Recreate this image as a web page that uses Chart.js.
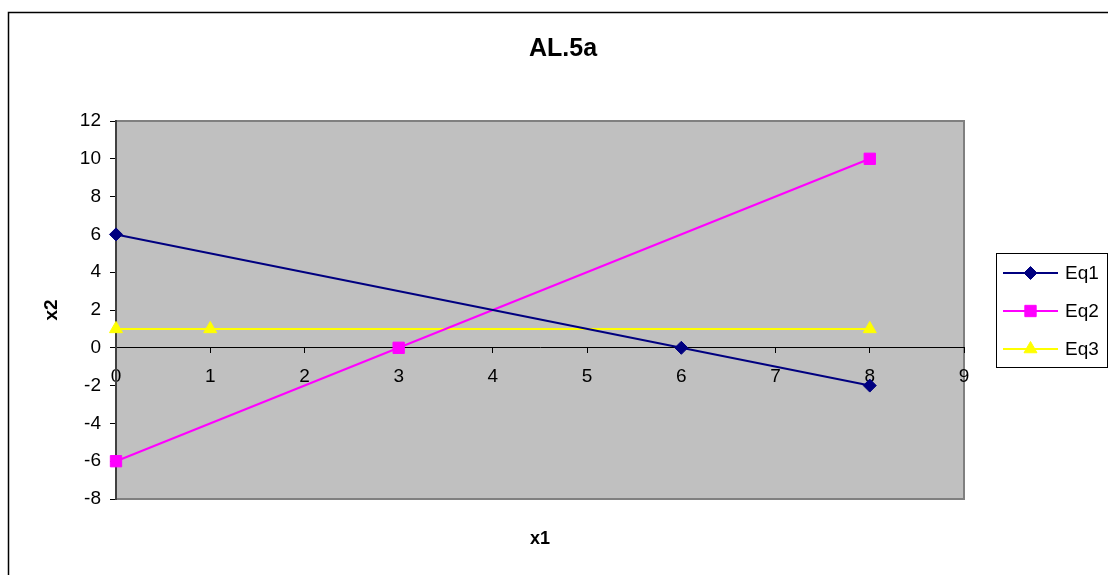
<!DOCTYPE html>
<html>
<head>
<meta charset="utf-8">
<title>AL.5a</title>
<script src="https://cdn.jsdelivr.net/npm/chart.js@4/dist/chart.umd.min.js"></script>
<style>
  html, body { margin: 0; padding: 0; background: #ffffff; }
  #wrap { width: 1108px; height: 575px; }
</style>
</head>
<body>
<div id="wrap"><canvas id="c" width="1108" height="575"></canvas></div>
<script>
// Lines of the three equations, given by the points where markers sit
const eq1X = [0, 6, 8];
const eq1Y = [6, 0, -2];
const eq2X = [0, 3, 8];
const eq2Y = [-6, 0, 10];
const eq3X = [0, 1, 8];
const eq3Y = [1, 1, 1];

const seriesNames = ['Eq1', 'Eq2', 'Eq3'];
const chartTitle = 'AL.5a';
const xTitle = 'x1';
const yTitle = 'x2';

const xRange = [0, 9];
const yRange = [-8, 12];

const FONT = '"Liberation Sans", Arial, sans-serif';

function pts(xs, ys) {
  return xs.map((x, i) => ({ x: x, y: ys[i] }));
}

const series = [
  { label: seriesNames[0], data: pts(eq1X, eq1Y), color: '#000080', style: 'rectRot', radius: 6.5 },
  { label: seriesNames[1], data: pts(eq2X, eq2Y), color: '#FF00FF', style: 'rect', radius: 8 },
  { label: seriesNames[2], data: pts(eq3X, eq3Y), color: '#FFFF00', style: 'triangle', radius: 7.5 }
];

// Background, plot area, frame, title, x-axis caption and boxed legend
const decor = {
  id: 'decor',
  beforeDraw(chart) {
    const { ctx, chartArea: a } = chart;
    ctx.save();
    ctx.fillStyle = '#ffffff';
    ctx.fillRect(0, 0, chart.width, chart.height);
    ctx.strokeStyle = '#000000';
    ctx.lineWidth = 1.5;
    ctx.strokeRect(8.5, 12.5, chart.width + 20, chart.height + 20);
    ctx.fillStyle = '#C0C0C0';
    ctx.fillRect(a.left, a.top, a.right - a.left, a.bottom - a.top);
    ctx.strokeStyle = '#808080';
    ctx.lineWidth = 2;
    ctx.strokeRect(a.left, a.top, a.right - a.left, a.bottom - a.top);
    ctx.restore();
  },
  afterDraw(chart) {
    const { ctx, chartArea: a } = chart;
    ctx.save();
    ctx.fillStyle = '#000000';
    ctx.textAlign = 'center';
    ctx.textBaseline = 'middle';
    ctx.font = 'bold 25px ' + FONT;
    ctx.fillText(chartTitle, 563, 49);
    ctx.font = 'bold 18px ' + FONT;
    ctx.fillText(xTitle, (a.left + a.right) / 2, 539);

    // legend
    const lx = 996, ly = 253, lw = 111, lh = 114;
    ctx.fillStyle = '#ffffff';
    ctx.fillRect(lx, ly, lw, lh);
    ctx.strokeStyle = '#000000';
    ctx.lineWidth = 1;
    ctx.strokeRect(lx + 0.5, ly + 0.5, lw, lh);
    chart.data.datasets.forEach((ds, i) => {
      const y = 273 + i * 38;
      ctx.strokeStyle = ds.borderColor;
      ctx.lineWidth = 2;
      ctx.beginPath();
      ctx.moveTo(1003, y);
      ctx.lineTo(1058, y);
      ctx.stroke();
      ctx.fillStyle = ds.backgroundColor;
      ctx.strokeStyle = ds.borderColor;
      ctx.lineWidth = 1;
      Chart.helpers.drawPoint(ctx, { pointStyle: ds.pointStyle, radius: ds.pointRadius, borderWidth: 1, rotation: 0 }, 1030.5, y);
      ctx.fillStyle = '#000000';
      ctx.textAlign = 'left';
      ctx.textBaseline = 'middle';
      ctx.font = '19px ' + FONT;
      ctx.fillText(ds.label, 1065, y + 1);
    });
    ctx.restore();
  }
};

new Chart(document.getElementById('c'), {
  type: 'scatter',
  data: {
    datasets: series.map(s => ({
      label: s.label,
      data: s.data,
      showLine: true,
      clip: false,
      borderColor: s.color,
      backgroundColor: s.color,
      borderWidth: 2,
      pointStyle: s.style,
      pointRadius: s.radius,
      pointHoverRadius: s.radius,
      pointBorderWidth: 1,
      tension: 0
    }))
  },
  options: {
    responsive: false,
    animation: false,
    events: [],
    layout: { padding: { left: 0, top: 121, right: 144, bottom: 76 } },
    plugins: {
      legend: { display: false },
      title: { display: false },
      tooltip: { enabled: false }
    },
    scales: {
      x: {
        type: 'linear',
        position: { y: 0 },
        min: xRange[0],
        max: xRange[1],
        grid: { drawOnChartArea: false, drawTicks: true, tickLength: 5, tickColor: '#000000' },
        border: { display: true, color: '#000000', width: 1 },
        ticks: {
          stepSize: 1,
          autoSkip: false,
          maxRotation: 0,
          padding: 13,
          color: '#000000',
          font: { family: FONT, size: 19 }
        }
      },
      y: {
        type: 'linear',
        position: 'left',
        min: yRange[0],
        max: yRange[1],
        afterFit(scale) { scale.width = 116; },
        grid: { drawOnChartArea: false, drawTicks: true, tickLength: 6, tickColor: '#000000' },
        border: { display: true, color: '#404040', width: 2 },
        ticks: {
          stepSize: 2,
          autoSkip: false,
          padding: 9,
          color: '#000000',
          font: { family: FONT, size: 19 }
        },
        title: {
          display: true,
          text: yTitle,
          color: '#000000',
          font: { family: FONT, size: 19, weight: 'bold' },
          padding: { top: 40, bottom: 0 }
        }
      }
    }
  },
  plugins: [decor]
});
</script>
</body>
</html>
